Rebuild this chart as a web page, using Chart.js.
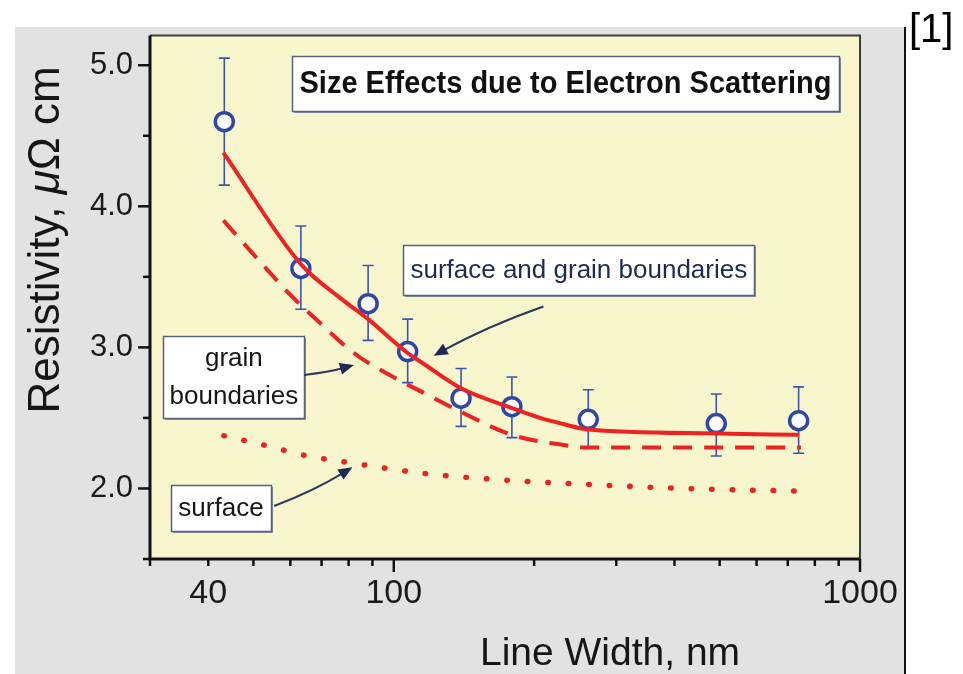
<!DOCTYPE html>
<html>
<head>
<meta charset="utf-8">
<script src="https://cdn.jsdelivr.net/npm/chart.js@4.4.0/dist/chart.umd.min.js"></script>
<style>
  html, body { margin: 0; padding: 0; background: #fff; }
  canvas { display: block; }
</style>
</head>
<body>
<canvas id="chart" width="963" height="674"></canvas>
<script>
// measured points: line width (nm) and resistivity (µΩ·cm) with error bar ends
const widths = [43.3, 63.2, 88.1, 107.1, 139.4, 179.2, 261.3, 491.7, 738.5];
const resistivity = [4.60, 3.56, 3.31, 2.97, 2.64, 2.58, 2.49, 2.46, 2.48];
const errHigh = [5.05, 3.86, 3.58, 3.20, 2.85, 2.79, 2.70, 2.67, 2.72];
const errLow = [4.15, 3.27, 3.05, 2.75, 2.44, 2.36, 2.29, 2.23, 2.25];

// model: surface and grain boundaries (solid)
const bothX = [43.1, 63.2, 78.2, 88.1, 107.1, 114, 139.4, 179.2, 206, 235, 258, 491.7, 741];
const bothY = [4.38, 3.59, 3.33, 3.20, 2.96, 2.90, 2.71, 2.57, 2.50, 2.45, 2.42, 2.39, 2.38];

// model: grain boundaries only (dashed)
const grainX = [43.1, 51.9, 60.1, 68.6, 82.1, 98.4, 114, 138.9, 179.2, 235, 259, 747];
const grainY = [3.90, 3.60, 3.37, 3.19, 2.96, 2.80, 2.69, 2.545, 2.38, 2.305, 2.29, 2.29];

// model: surface only (dotted)
const surfX = [43.2, 53.2, 64.7, 79.2, 96.8, 117.9, 158.5, 259.2, 482.9, 723];
const surfY = [2.374, 2.304, 2.233, 2.186, 2.142, 2.104, 2.068, 2.029, 1.994, 1.982];

// axes
const xTicks = [30, 40, 50, 60, 70, 80, 90, 100, 200, 300, 400, 500, 600, 700, 800, 900, 1000];
const xLabels = [40, 100, 1000];
const xMajor = [100, 1000];
const yTicks = [1.5, 2, 2.5, 3, 3.5, 4, 4.5, 5];
const yLabels = [2, 3, 4, 5];

const FONT = "'Liberation Sans', Arial, sans-serif";
Chart.defaults.font.family = FONT;

const pts = (xs, ys) => xs.map((x, i) => ({x: x, y: ys[i]}));

const backdrop = {
    id: 'backdrop',
    beforeDraw(chart) {
        const {ctx, chartArea: a} = chart;
        ctx.save();
        ctx.fillStyle = '#ffffff';
        ctx.fillRect(0, 0, chart.width, chart.height);
        ctx.fillStyle = '#e1e2e1';
        ctx.fillRect(15, 27, 890, chart.height - 27);
        ctx.fillStyle = '#f8f6cd';
        ctx.fillRect(a.left, a.top, a.right - a.left, a.bottom - a.top);
        ctx.strokeStyle = '#111';
        ctx.lineWidth = 2;
        ctx.beginPath();
        ctx.moveTo(905, 27);
        ctx.lineTo(905, chart.height);
        ctx.stroke();
        ctx.restore();
    }
};

// frame, tick marks and error bars, under the data
const frame = {
    id: 'frame',
    beforeDatasetsDraw(chart) {
        const {ctx, chartArea: a, scales: {x, y}} = chart;
        ctx.save();
        ctx.strokeStyle = '#3c3c3c';
        ctx.lineWidth = 2;
        ctx.beginPath();
        ctx.moveTo(a.left, a.top);
        ctx.lineTo(a.right, a.top);
        ctx.lineTo(a.right, a.bottom);
        ctx.stroke();

        ctx.strokeStyle = '#111';
        ctx.lineWidth = 3;
        ctx.beginPath();
        ctx.moveTo(a.left, a.top);
        ctx.lineTo(a.left, a.bottom);
        ctx.lineTo(a.right, a.bottom);
        ctx.stroke();

        ctx.lineWidth = 2.5;
        yTicks.forEach(v => {
            const py = y.getPixelForValue(v);
            const len = yLabels.includes(v) ? 12 : 7;
            ctx.beginPath();
            ctx.moveTo(a.left - len, py);
            ctx.lineTo(a.left, py);
            ctx.stroke();
        });
        xTicks.forEach(v => {
            const px = x.getPixelForValue(v);
            const len = xMajor.includes(v) ? 13 : 7;
            ctx.beginPath();
            ctx.moveTo(px, a.bottom);
            ctx.lineTo(px, a.bottom + len);
            ctx.stroke();
        });

        ctx.strokeStyle = '#3b55b0';
        ctx.lineWidth = 1.6;
        widths.forEach((w, i) => {
            const px = x.getPixelForValue(w);
            const top = y.getPixelForValue(errHigh[i]);
            const bot = y.getPixelForValue(errLow[i]);
            ctx.beginPath();
            ctx.moveTo(px, top);
            ctx.lineTo(px, bot);
            ctx.moveTo(px - 5.5, top);
            ctx.lineTo(px + 5.5, top);
            ctx.moveTo(px - 5.5, bot);
            ctx.lineTo(px + 5.5, bot);
            ctx.stroke();
        });
        ctx.restore();
    }
};

function drawArrow(ctx, x0, y0, x1, y1, bend) {
    const dx = x1 - x0, dy = y1 - y0, len = Math.hypot(dx, dy);
    const cx = (x0 + x1) / 2 - dy / len * bend;
    const cy = (y0 + y1) / 2 + dx / len * bend;
    const ang = Math.atan2(y1 - cy, x1 - cx);
    const hl = 14, hw = 6;
    ctx.beginPath();
    ctx.moveTo(x0, y0);
    ctx.quadraticCurveTo(cx, cy, x1 - Math.cos(ang) * hl * 0.8, y1 - Math.sin(ang) * hl * 0.8);
    ctx.stroke();
    ctx.beginPath();
    ctx.moveTo(x1, y1);
    ctx.lineTo(x1 - hl * Math.cos(ang) + hw * Math.sin(ang), y1 - hl * Math.sin(ang) - hw * Math.cos(ang));
    ctx.lineTo(x1 - hl * Math.cos(ang) - hw * Math.sin(ang), y1 - hl * Math.sin(ang) + hw * Math.cos(ang));
    ctx.closePath();
    ctx.fill();
}

// labelled boxes, placed in data coordinates
const notes = [
    {lines: ['Size Effects due to Electron Scattering'], at: [233.5, 4.868], w: 547, h: 55,
        font: 'bold 31px ' + FONT, color: '#111', fit: 532},
    {lines: ['surface and grain boundaries'], at: [249.4, 3.548], w: 351, h: 50,
        font: '26px ' + FONT, color: '#1d2a52', arrow: [[209.4, 3.29], [121.8, 2.94], 5]},
    {lines: ['grain', 'boundaries'], at: [45.4, 2.789], w: 141, h: 82,
        font: '26px ' + FONT, color: '#161616', arrow: [[64.2, 2.804], [82.1, 2.875], 2]},
    {lines: ['surface'], at: [42.6, 1.862], w: 100, h: 46,
        font: '26px ' + FONT, color: '#161616', arrow: [[55.4, 1.876], [81.5, 2.151], 4]}
];

const annotations = {
    id: 'annotations',
    afterDatasetsDraw(chart) {
        const {ctx, scales: {x, y}} = chart;
        ctx.save();
        notes.forEach(n => {
            const cx = x.getPixelForValue(n.at[0]);
            const cy = y.getPixelForValue(n.at[1]);
            const l = Math.round(cx - n.w / 2) + 0.5, t = Math.round(cy - n.h / 2) + 0.5;
            ctx.fillStyle = '#8a93a3';
            ctx.fillRect(l + 1.5, t + 1.5, n.w, n.h);
            ctx.fillStyle = '#ffffff';
            ctx.fillRect(l, t, n.w, n.h);
            ctx.strokeStyle = '#56627a';
            ctx.lineWidth = 1.5;
            ctx.strokeRect(l, t, n.w, n.h);

            ctx.fillStyle = n.color;
            ctx.font = n.font;
            ctx.textAlign = 'center';
            ctx.textBaseline = 'middle';
            const lh = 38;
            n.lines.forEach((s, i) => {
                const ty = cy + (i - (n.lines.length - 1) / 2) * lh + 1;
                if (n.fit) ctx.fillText(s, cx, ty, n.fit);
                else ctx.fillText(s, cx, ty);
            });

            if (n.arrow) {
                const [from, to, bend] = n.arrow;
                ctx.strokeStyle = '#2b3a5e';
                ctx.fillStyle = '#1c2a55';
                ctx.lineWidth = 2;
                drawArrow(ctx, x.getPixelForValue(from[0]), y.getPixelForValue(from[1]),
                    x.getPixelForValue(to[0]), y.getPixelForValue(to[1]), bend);
            }
        });
        ctx.restore();
    },
    afterDraw(chart) {
        const {ctx} = chart;
        ctx.save();
        ctx.fillStyle = '#161616';
        ctx.textBaseline = 'alphabetic';

        // x title
        ctx.font = '39px ' + FONT;
        ctx.textAlign = 'center';
        ctx.fillText('Line Width, nm', 610, 665);

        // y title, with italic mu
        ctx.translate(59, 240);
        ctx.rotate(-Math.PI / 2);
        const parts = [['Resistivity, ', '44px '], ['\u03bc', 'italic 44px '], ['\u03a9 cm', '44px ']];
        let total = 0;
        parts.forEach(p => { ctx.font = p[1] + FONT; total += ctx.measureText(p[0]).width; });
        let pos = -total / 2;
        ctx.textAlign = 'left';
        parts.forEach(p => {
            ctx.font = p[1] + FONT;
            ctx.fillText(p[0], pos, 0);
            pos += ctx.measureText(p[0]).width;
        });
        ctx.setTransform(1, 0, 0, 1, 0, 0);

        ctx.font = '40px ' + FONT;
        ctx.fillStyle = '#000';
        ctx.fillText('[1]', 909, 42);
        ctx.restore();
    }
};

new Chart(document.getElementById('chart'), {
    type: 'scatter',
    data: {
        datasets: [
            {
                label: 'measured',
                data: pts(widths, resistivity),
                pointRadius: 9,
                pointBorderWidth: 3.5,
                pointBackgroundColor: '#ffffff',
                pointBorderColor: '#3047a6',
                order: 3
            },
            {
                label: 'surface and grain boundaries',
                data: pts(bothX, bothY),
                showLine: true,
                borderColor: '#ee2222',
                borderWidth: 4,
                pointRadius: 0,
                cubicInterpolationMode: 'monotone',
                order: 1
            },
            {
                label: 'grain boundaries',
                data: pts(grainX, grainY),
                showLine: true,
                borderColor: '#ee2222',
                borderWidth: 4,
                borderDash: [19, 12],
                pointRadius: 0,
                cubicInterpolationMode: 'monotone',
                order: 2
            },
            {
                label: 'surface',
                data: pts(surfX, surfY),
                showLine: true,
                borderColor: '#ee2222',
                borderWidth: 5.5,
                borderDash: [0.5, 20],
                borderCapStyle: 'round',
                pointRadius: 0,
                cubicInterpolationMode: 'monotone',
                order: 2
            }
        ]
    },
    options: {
        responsive: false,
        animation: false,
        layout: {padding: {left: 15, top: 32, right: 103, bottom: 0}},
        plugins: {
            legend: {display: false},
            tooltip: {enabled: false}
        },
        scales: {
            x: {
                type: 'logarithmic',
                min: 30,
                max: 1000,
                grid: {display: false, drawTicks: false},
                border: {display: false},
                afterBuildTicks: s => { s.ticks = xTicks.map(v => ({value: v})); },
                afterFit: s => { s.height = 115; },
                ticks: {
                    autoSkip: false,
                    maxRotation: 0,
                    padding: 14,
                    color: '#1a1a1a',
                    font: {size: 34},
                    callback: v => xLabels.includes(v) ? String(v) : ''
                }
            },
            y: {
                min: 1.5,
                max: 5.21,
                grid: {display: false, drawTicks: false},
                border: {display: false},
                afterBuildTicks: s => { s.ticks = yTicks.map(v => ({value: v})); },
                afterFit: s => { s.width = 135; },
                ticks: {
                    autoSkip: false,
                    padding: 17,
                    color: '#1a1a1a',
                    font: {size: 31},
                    callback: v => yLabels.includes(v) ? v.toFixed(1) : ''
                }
            }
        }
    },
    plugins: [backdrop, frame, annotations]
});
</script>
</body>
</html>
